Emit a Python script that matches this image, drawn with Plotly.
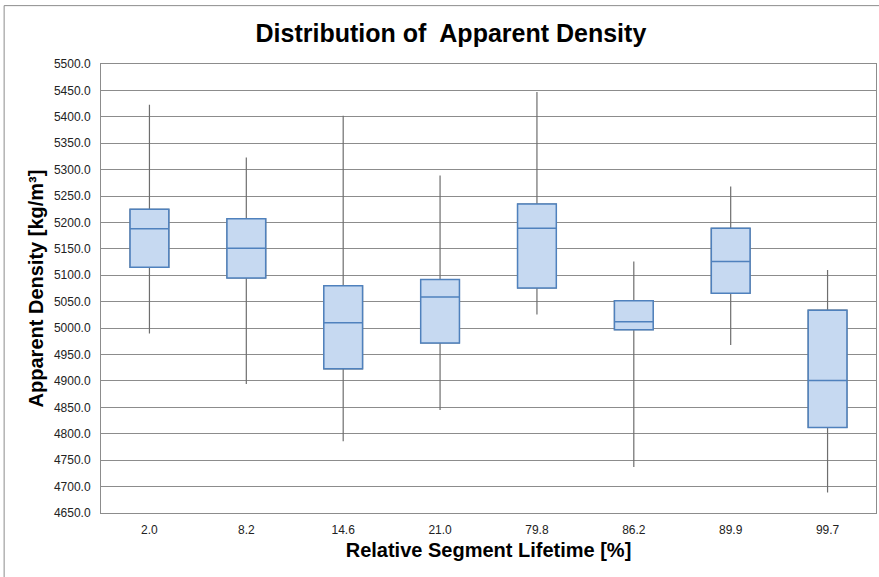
import plotly.graph_objects as go

categories = ["2.0", "8.2", "14.6", "21.0", "79.8", "86.2", "89.9", "99.7"]
upper = [5423, 5323, 5402, 5289, 5447, 5126, 5268, 5110]
q3 = [5225, 5207, 5080, 5092, 5235, 5052, 5189, 5034]
median = [5188, 5151, 5010, 5059, 5189, 5012, 5126, 4901]
q1 = [5115, 5095, 4923, 4972, 5076, 4997, 5066, 4812]
lower = [4990, 4894, 4786, 4845, 5026, 4737, 4968, 4689]
y_ticks = [4650 + 50 * i for i in range(18)]

FONT = "Liberation Sans, Arial, sans-serif"

fig = go.Figure()
# whiskers (grey)
fig.add_trace(go.Box(
    x=categories, q1=q1, median=median, q3=q3,
    lowerfence=lower, upperfence=upper,
    width=0.4, whiskerwidth=0, boxpoints=False,
    line=dict(color="#6e6e6e", width=1.2),
    fillcolor="rgba(0,0,0,0)", hoverinfo="skip", showlegend=False,
))
# boxes (blue)
fig.add_trace(go.Box(
    x=categories, q1=q1, median=median, q3=q3,
    lowerfence=q1, upperfence=q3,
    width=0.4, whiskerwidth=0, boxpoints=False,
    line=dict(color="#4F81BD", width=1.5),
    fillcolor="#C6D9F1", hoverinfo="skip", showlegend=False,
))

fig.update_layout(
    width=879, height=577, autosize=False,
    margin=dict(l=101, r=3, t=64, b=64),
    paper_bgcolor="white", plot_bgcolor="white",
    boxmode="overlay",
    title=dict(text="<b>Distribution of  Apparent Density</b>",
               x=0.513, xanchor="center", y=0.943, yanchor="middle",
               font=dict(family=FONT, size=25, color="black")),
    font=dict(family=FONT, color="#222222"),
    xaxis=dict(
        type="category", range=[-0.5, 7.5],
        showgrid=False, ticks="", tickfont=dict(size=12, color="#222222"),
        ticklabelstandoff=6, automargin=False,
        showline=True, linecolor="#8c8c8c", linewidth=1, mirror=True,
        title=dict(text="<b>Relative Segment Lifetime [%]</b>",
                   font=dict(family=FONT, size=20, color="black"), standoff=6),
    ),
    yaxis=dict(
        range=[4650, 5500], tickvals=y_ticks,
        tickformat=".1f", showgrid=True, gridcolor="#8c8c8c", gridwidth=1,
        zeroline=False, ticks="", tickfont=dict(size=12, color="#222222"),
        ticklabelstandoff=7,
        showline=True, linecolor="#8c8c8c", linewidth=1, mirror=True,
        automargin=False,
        title=dict(text="<b>Apparent Density [kg/m³]</b>",
                   font=dict(family=FONT, size=20, color="black"), standoff=4),
    ),
    shapes=[dict(type="rect", xref="paper", yref="paper",
                 x0=-0.125, x1=1.2, y0=-0.3, y1=1.13,
                 line=dict(color="#8c8c8c", width=1), fillcolor="rgba(0,0,0,0)",
                 layer="below")],
)

post = ("document.body.style.margin='0';document.body.style.padding='0';"
        "var gd=document.getElementById('{plot_id}');"
        "Plotly.relayout(gd,{width:879,height:577});")

fig.write_html("out.html", config={"responsive": False, "displayModeBar": False},
               post_script=post)
